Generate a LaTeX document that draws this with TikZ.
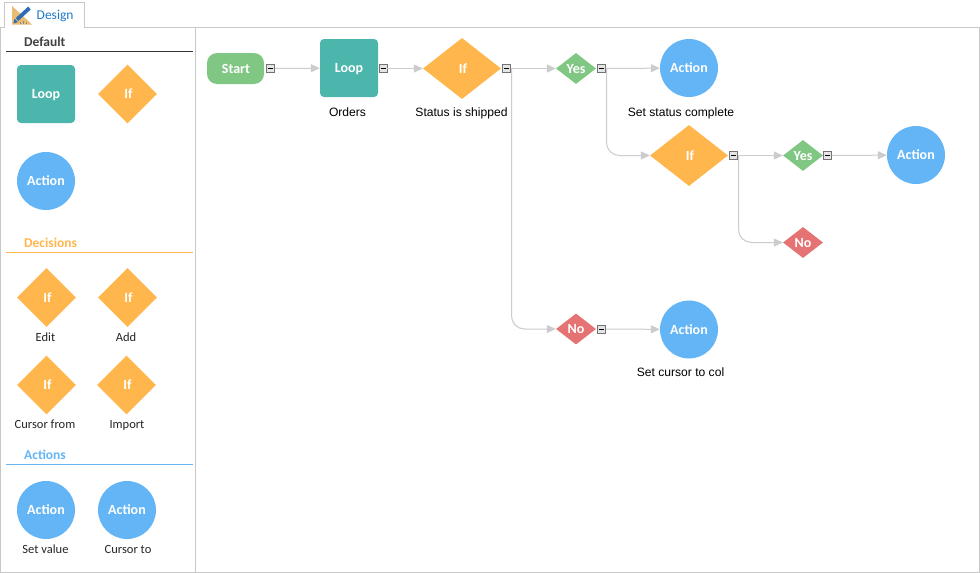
\documentclass[tikz,border=0pt]{standalone}
\usepackage{fontspec}
\setmainfont{Carlito}
\newfontfamily\arialfont{Liberation Sans}
\usetikzlibrary{shapes.geometric,arrows.meta}
\definecolor{cgreen}{HTML}{81C784}
\definecolor{cred}{HTML}{E57373}
\definecolor{cblue}{HTML}{64B5F6}
\definecolor{corange}{HTML}{FFB74D}
\definecolor{cteal}{HTML}{4DB6AC}
\definecolor{cframe}{HTML}{C8C8C8}
\definecolor{cconn}{HTML}{CCCCCC}
\definecolor{ctab}{HTML}{1F7AC8}
\definecolor{cicon}{HTML}{EBBB74}
\definecolor{cpen}{HTML}{2E6DB4}
\tikzset{
  shapetext/.style={text=white,font=\fontsize{14}{15}\selectfont\bfseries,inner sep=0pt,text height=9pt,text depth=0pt},
  startbox/.style={shapetext,rectangle,rounded corners=10pt,fill=cgreen,minimum width=57pt,minimum height=31pt},
  loopbox/.style={shapetext,rectangle,rounded corners=4pt,fill=cteal,minimum size=58pt},
  ifbig/.style={shapetext,diamond,aspect=1.28,fill=corange,minimum width=78pt,minimum height=61pt},
  ifpal/.style={shapetext,diamond,fill=corange,minimum width=59pt,minimum height=59pt},
  yesd/.style={shapetext,diamond,aspect=1.29,fill=cgreen,minimum width=40pt,minimum height=31pt},
  nod/.style={shapetext,diamond,aspect=1.29,fill=cred,minimum width=40pt,minimum height=31pt},
  actionc/.style={shapetext,circle,fill=cblue,minimum size=58pt},
  btn/.style={rectangle,draw=black!55,line width=0.8pt,fill=black!10,minimum size=8pt,inner sep=0pt,
    path picture={\draw[black,line width=1pt] ([xshift=-2.5pt]path picture bounding box.center) -- ([xshift=2.5pt]path picture bounding box.center);}},
  conn/.style={draw=cconn,line width=1pt,-{Triangle[length=9pt,width=8pt,fill=cconn]}},
  branch/.style={conn,rounded corners=13pt},
  fline/.style={draw=cframe,line width=1pt},
  cap1/.style={font=\arialfont\fontsize{12.1}{14}\selectfont,text=black,inner sep=0pt,text height=9.5pt,text depth=1pt},
  cap2/.style={font=\fontsize{12.5}{14}\selectfont,text=black!85,inner sep=0pt,text height=9pt,text depth=1pt},
  sect/.style={font=\fontsize{13.5}{14}\selectfont\bfseries,anchor=west,inner sep=0pt},
}
\newcommand{\iftxt}{\hspace*{2pt}If}
\begin{document}
\begin{tikzpicture}[x=1pt,y=-1pt]
\useasboundingbox (0,0) rectangle (980,573);
\fill[white] (0,0) rectangle (980,573);
% frame and tab
\draw[fline] (4,27.5) -- (0.5,27.5) -- (0.5,572.5) -- (979.5,572.5) -- (979.5,27.5) -- (84.5,27.5) -- (84.5,2.5) -- (4,2.5) -- cycle;
\draw[fline] (195.5,27.5) -- (195.5,572.5);
\fill[white] (5,26) rectangle (84,28);
% tab icon
\fill[cicon] (12,6) -- (12,24.5) -- (32,24.5) -- cycle;
\draw[black!45,line width=0.7pt] (20,24) -- (20,22) (23,24) -- (23,21) (26,24) -- (26,22);
\draw[cpen,line width=3.8pt] (17,19.5) -- (29.5,8);
\fill[cpen] (13.5,23.5) -- (14.5,18.5) -- (18,22) -- cycle;
\node[font=\fontsize{13.5}{14}\selectfont,text=ctab,inner sep=0pt,anchor=west] (tabtitle) at (36.5,16) {Design};
% palette headers
\node[sect,text=black!75] (h1) at (24,41.5) {Default};
\draw[black!80,line width=1pt] (6,51.5) -- (193,51.5);
\node[sect,text=corange] (h2) at (24,242.5) {Decisions};
\draw[corange,line width=1pt] (6,252.5) -- (193,252.5);
\node[sect,text=cblue] (h3) at (24,454.5) {Actions};
\draw[cblue,line width=1pt] (6,464.5) -- (193,464.5);
% palette shapes
\node[loopbox] (pl) at (46,94) {Loop};
\node[ifpal] (pi) at (127.5,94) {\iftxt};
\node[actionc] (pa) at (46,181) {Action};
\node[ifpal] (pe) at (46.5,297.5) {\iftxt};
\node[ifpal] (pd) at (127.5,297.5) {\iftxt};
\node[ifpal] (pc) at (46.5,385) {\iftxt};
\node[ifpal] (pm) at (126.5,385) {\iftxt};
\node[cap2] (le) at (45.5,337) {Edit};
\node[cap2] (ld) at (126,337) {Add};
\node[cap2] (lc) at (45,424) {Cursor from};
\node[cap2] (lm) at (127,424) {Import};
\node[actionc] (pv) at (46,510) {Action};
\node[actionc] (pt) at (127,510) {Action};
\node[cap2] (lv) at (45.5,549) {Set value};
\node[cap2] (lt) at (128,549) {Cursor to};
% flow nodes
\node[startbox] (start) at (235.5,68.5) {\hspace*{1pt}Start};
\node[loopbox] (loop) at (349,68) {Loop};
\node[ifbig] (if1) at (462,68.5) {\iftxt};
\node[yesd] (yes1) at (576,68.5) {Yes};
\node[actionc] (act1) at (689,68) {Action};
\node[ifbig] (if2) at (689,155.5) {\iftxt};
\node[yesd] (yes2) at (803,155.5) {Yes};
\node[actionc] (act2) at (916,155) {Action};
\node[nod] (no2) at (803,242.5) {No};
\node[nod] (no1) at (576,329) {No};
\node[actionc] (act3) at (689,329.5) {Action};
% captions
\node[cap1] (t1) at (347.5,112) {Orders};
\node[cap1] (t2) at (461.5,112) {Status is shipped};
\node[cap1] (t3) at (681,112) {Set status complete};
\node[cap1] (t4) at (680.5,372) {Set cursor to col};
% buttons
\node[btn] (b1) at (270.5,68.5) {};
\node[btn] (b2) at (383,68.5) {};
\node[btn] (b3) at (506.5,68.5) {};
\node[btn] (b4) at (601.5,68.5) {};
\node[btn] (b5) at (733.5,155.5) {};
\node[btn] (b6) at (827.5,155.5) {};
\node[btn] (b7) at (601.5,329) {};
\coordinate (j3) at (511.5,68.5);
\coordinate (j4) at (606.5,68.5);
\coordinate (j5) at (738.5,155.5);
% connectors
\draw[conn] (b1) -- (loop);
\draw[conn] (b2) -- (if1);
\draw[conn] (b3) -- (yes1);
\draw[conn] (b4) -- (act1);
\draw[conn] (b5) -- (yes2);
\draw[conn] (b6) -- (act2);
\draw[conn] (b7) -- (act3);
\draw[branch] (j3) |- (no1.west);
\draw[branch] (j4) |- (if2.west);
\draw[branch] (j5) |- (no2.west);
\end{tikzpicture}
\end{document}
